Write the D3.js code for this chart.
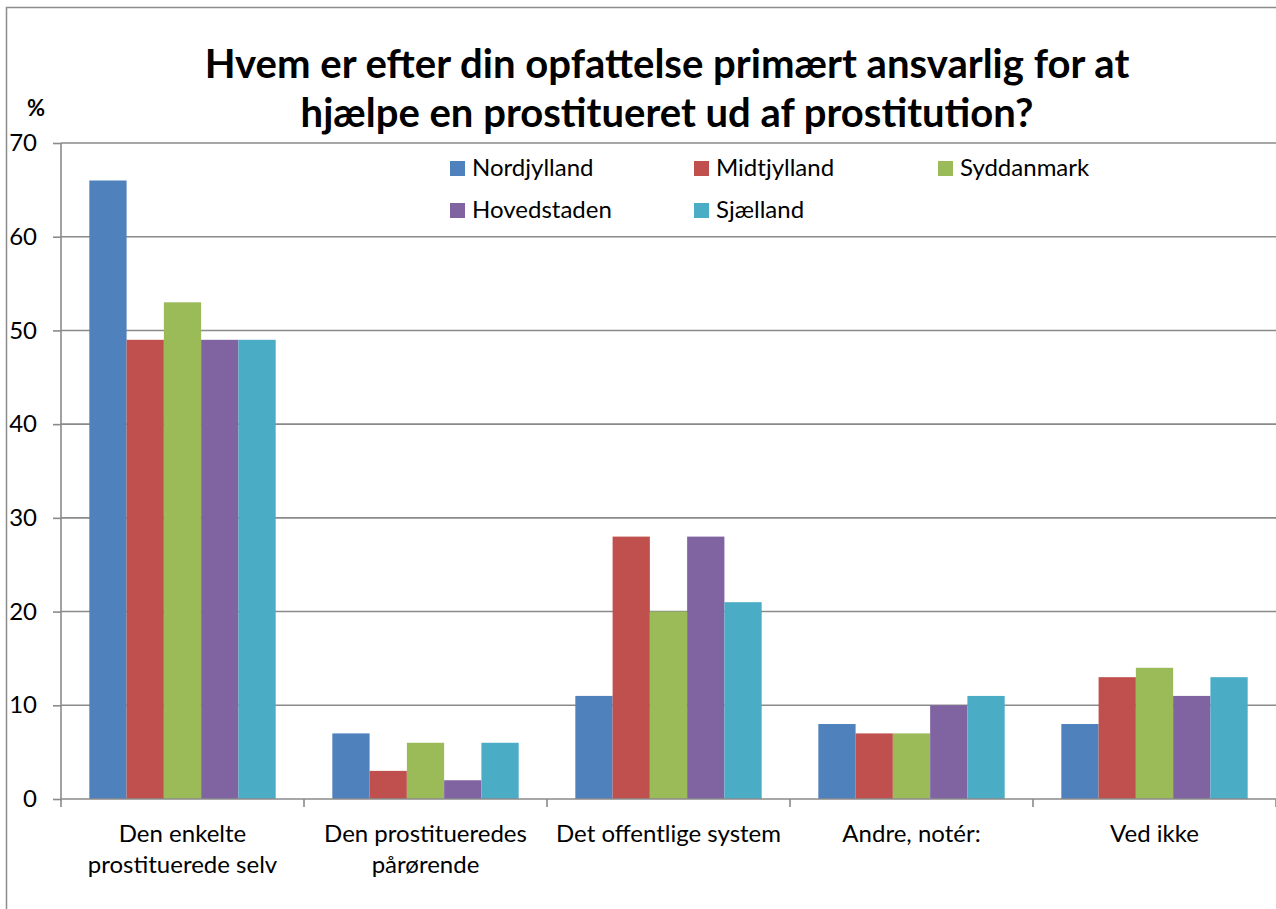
<!DOCTYPE html>
<html><head><meta charset="utf-8">
<script src="https://cdn.jsdelivr.net/npm/d3@7"></script>
<style>html,body{margin:0;padding:0;background:#fff;overflow:hidden}</style>
</head><body>
<svg id="c" width="1276" height="909"></svg>
<script>
const categories = [["Den enkelte","prostituerede selv"],["Den prostitueredes","pårørende"],["Det offentlige system"],["Andre, notér:"],["Ved ikke"]];
const seriesNames = ["Nordjylland","Midtjylland","Syddanmark","Hovedstaden","Sjælland"];
const nordjylland = [66,7,11,8,8];
const midtjylland = [49,3,28,7,13];
const syddanmark  = [53,6,20,7,14];
const hovedstaden = [49,2,28,10,11];
const sjaelland   = [49,6,21,11,13];
const yTicks = [0,10,20,30,40,50,60,70];
const titleLines = ["Hvem er efter din opfattelse primært ansvarlig for at","hjælpe en prostitueret ud af prostitution?"];
const colors = ["#4F81BD","#C0504D","#9BBB59","#8064A2","#4BACC6"];

const seriesValues = [nordjylland,midtjylland,syddanmark,hovedstaden,sjaelland];
const font = "Lato, 'Open Sans', sans-serif";
const fs = 24;
const svg = d3.select("#c");

// outer chart border
svg.append("rect").attr("x",6.5).attr("y",7.5).attr("width",1400).attr("height",1000)
  .attr("fill","#fff").attr("stroke","#8c8c8c").attr("stroke-width",1.5);

const x0 = d3.scaleBand().domain(d3.range(categories.length)).range([61,1276]).paddingInner(0).paddingOuter(0);
const x1 = d3.scaleBand().domain(d3.range(seriesNames.length)).range([0,x0.bandwidth()]).paddingOuter(0.76).paddingInner(0);
const y = d3.scaleLinear().domain([0,70]).range([799,143]);

// gridlines
svg.append("g").selectAll("line").data(yTicks.filter(t=>t>0)).join("line")
  .attr("x1",61).attr("x2",1276).attr("y1",d=>y(d)).attr("y2",d=>y(d))
  .attr("stroke","#8a8a8a").attr("stroke-width",1.6);

// bars
const g = svg.append("g");
categories.forEach((c,ci)=>{
  seriesValues.forEach((vals,si)=>{
    g.append("rect")
      .attr("x",x0(ci)+x1(si)).attr("width",x1.bandwidth())
      .attr("y",y(vals[ci])).attr("height",y(0)-y(vals[ci]))
      .attr("fill",colors[si]);
  });
});

// y axis
const yAxis = d3.axisLeft(y).tickValues(yTicks).tickSize(8).tickPadding(16);
const ya = svg.append("g").attr("transform","translate(61,0)").call(yAxis);
ya.select(".domain").attr("stroke","#8a8a8a").attr("stroke-width",1.6).attr("d","M0,143V799");
ya.selectAll(".tick line").attr("stroke","#8a8a8a").attr("stroke-width",1.6);
ya.selectAll(".tick text").attr("font-family",font).attr("font-size",fs).attr("fill","#000");

// x axis
const xa = svg.append("g").attr("transform","translate(0,799)");
xa.append("line").attr("x1",61).attr("x2",1276).attr("stroke","#8a8a8a").attr("stroke-width",1.6);
xa.selectAll("line.t").data(d3.range(categories.length+1)).join("line").attr("class","t")
  .attr("x1",i=>i<categories.length?x0(i):x0.range()[1]).attr("x2",i=>i<categories.length?x0(i):x0.range()[1])
  .attr("y1",0).attr("y2",8).attr("stroke","#8a8a8a").attr("stroke-width",1.6);
categories.forEach((lines,ci)=>{
  const t = xa.append("text").attr("font-family",font).attr("font-size",fs).attr("text-anchor","middle").attr("fill","#000");
  lines.forEach((l,li)=>t.append("tspan").attr("x",x0(ci)+x0.bandwidth()/2).attr("y",43+li*31).text(l));
});

// % label
svg.append("text").attr("x",27).attr("y",116).attr("font-family",font).attr("font-weight","bold").attr("font-size",22).text("%");

// title
const titleW = [925,733];
titleLines.forEach((l,i)=>{
  const t = svg.append("text").attr("x",667).attr("y",78+i*49).attr("text-anchor","middle")
    .attr("font-family",font).attr("font-weight","bold").attr("font-size",34).text(l);
  const w = t.node().getComputedTextLength();
  t.attr("font-size",34*titleW[i]/w);
});

// legend
const legPos = [[450,161],[694,161],[938,161],[450,203],[694,203]];
seriesNames.forEach((n,i)=>{
  const [lx,ly] = legPos[i];
  svg.append("rect").attr("x",lx).attr("y",ly).attr("width",15).attr("height",15).attr("fill",colors[i]);
  svg.append("text").attr("x",lx+22).attr("y",ly+15).attr("font-family",font).attr("font-size",fs).text(n);
});
</script>
</body></html>
